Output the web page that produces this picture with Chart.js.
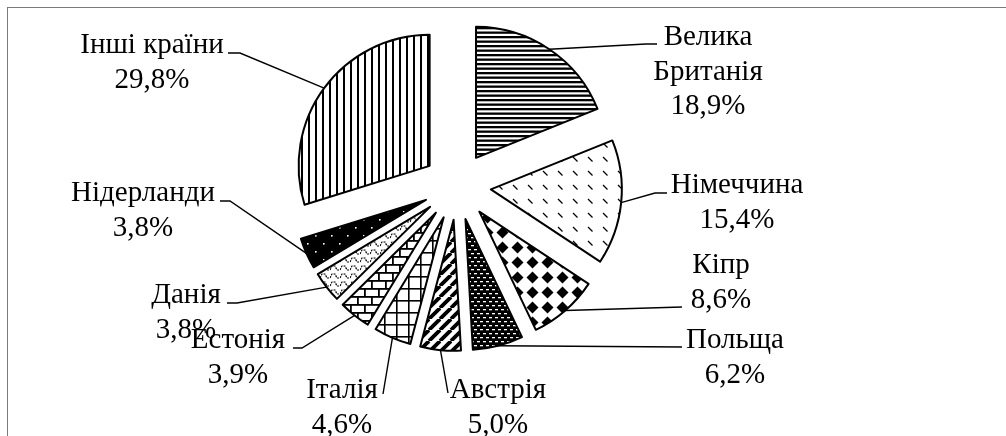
<!DOCTYPE html>
<html><head><meta charset="utf-8">
<script src="https://cdn.jsdelivr.net/npm/chart.js@4.4.1/dist/chart.umd.min.js"></script>
<style>html,body{margin:0;padding:0;background:#fff;overflow:hidden}#wrap{width:1006px;height:436px;position:relative}</style>
</head><body><div id="wrap"><canvas id="c" width="1006" height="436"></canvas></div>
<script>
// ---- data ----
const categories = [['Велика', 'Британія'], 'Німеччина', 'Кіпр', 'Польща', 'Австрія', 'Італія', 'Естонія', 'Данія', 'Нідерланди', 'Інші країни'];
const shares = [18.9, 15.4, 8.6, 6.2, 5.0, 4.6, 3.9, 3.8, 3.8, 29.8];

// ---- layout (positions of label text and leader elbows) ----
const labelAnchors = [[708, 45], [737, 193], [721, 273], [735, 348], [498, 398], [342, 398], [238, 348], [186, 303], [143, 201], [152, 53]];
const leaderPaths = [
  [[646, 44], [657, 44]],
  [[655, 193], [667, 193]],
  [[682, 307]],
  [[682, 347]],
  [[448, 393]],
  [[383, 394]],
  [[302, 348], [293, 348]],
  [[237, 303], [227, 303]],
  [[230, 201], [220, 201]],
  [[240, 53], [228, 53]]
];
const EXPLODE = 34;
const FONT = '29px "Liberation Serif", "Times New Roman", serif';
const LINE_H = 34.5;

const mainCtx = document.getElementById('c').getContext('2d');
function pat(w, h, fn, bg) {
  const c = document.createElement('canvas');
  c.width = w; c.height = h;
  const g = c.getContext('2d');
  g.fillStyle = bg || '#fff'; g.fillRect(0, 0, w, h);
  g.fillStyle = '#000'; g.strokeStyle = '#000';
  fn(g, w, h);
  return mainCtx.createPattern(c, 'repeat');
}
const patterns = [
  pat(1, 9, g => { g.fillRect(0, 0, 1, 2.3); g.fillRect(0, 4.5, 1, 2.3); }),
  pat(15, 14, g => { g.lineWidth = 1.3; g.beginPath(); g.moveTo(3, 3); g.lineTo(7.5, 7.5); g.stroke(); }),
  pat(15, 15, g => { g.beginPath(); g.moveTo(7.5, 1.5); g.lineTo(13.5, 7.5); g.lineTo(7.5, 13.5); g.lineTo(1.5, 7.5); g.closePath(); g.fill(); }),
  pat(6, 8, g => { g.fillStyle = '#fff'; g.fillRect(0, 1, 3, 1.3); g.fillRect(3, 5, 3, 1.3); }, '#000'),
  pat(11, 11, g => { g.lineWidth = 3.8; for (const k of [-11, 0, 11]) { g.beginPath(); g.moveTo(k, 11); g.lineTo(k + 11, 0); g.stroke(); } }),
  pat(12, 12, g => { g.fillRect(0, 0, 12, 1.6); g.fillRect(0, 0, 1.6, 12); }),
  pat(14, 16, g => { g.fillRect(0, 0, 14, 1.8); g.fillRect(0, 8, 14, 1.8); g.fillRect(0, 0, 1.8, 8); g.fillRect(7, 8, 1.8, 8); }),
  pat(10, 8, g => { g.lineWidth = 1.2; g.setLineDash([2, 1]); g.beginPath(); g.moveTo(0, 6); g.lineTo(2, 2); g.lineTo(5, 2); g.lineTo(7, 6); g.lineTo(10, 6); g.stroke(); }),
  pat(16, 16, g => { g.fillStyle = '#fff'; g.fillRect(3, 3, 1.6, 1.6); g.fillRect(11, 11, 1.6, 1.6); }, '#000'),
  pat(7, 1, g => { g.fillRect(0, 0, 2, 1); })
];

const framePlugin = {
  id: 'frame',
  beforeDraw(chart) {
    const c = chart.ctx;
    c.save();
    c.fillStyle = '#fff'; c.fillRect(0, 0, chart.width, chart.height);
    c.strokeStyle = '#7a7a7a'; c.lineWidth = 1;
    c.strokeRect(7.5, 7.5, chart.width + 20, chart.height + 20);
    c.restore();
  }
};
const explodePlugin = {
  id: 'explode',
  afterDatasetUpdate(chart, args) {
    const ca = chart.chartArea;
    const cx = (ca.left + ca.right) / 2, cy = (ca.top + ca.bottom) / 2;
    args.meta.data.forEach(arc => {
      const mid = (arc.startAngle + arc.endAngle) / 2;
      arc.x = cx + Math.cos(mid) * EXPLODE;
      arc.y = cy + Math.sin(mid) * EXPLODE;
    });
  }
};
const labelPlugin = {
  id: 'labels',
  afterDatasetsDraw(chart) {
    const c = chart.ctx;
    const meta = chart.getDatasetMeta(0);
    c.save();
    c.strokeStyle = '#000'; c.lineWidth = 1.4; c.lineJoin = 'miter';
    meta.data.forEach((arc, i) => {
      const mid = (arc.startAngle + arc.endAngle) / 2;
      const sx = arc.x + Math.cos(mid) * arc.outerRadius;
      const sy = arc.y + Math.sin(mid) * arc.outerRadius;
      c.beginPath(); c.moveTo(sx, sy);
      leaderPaths[i].forEach(p => c.lineTo(p[0], p[1]));
      c.stroke();
    });
    c.fillStyle = '#000'; c.font = FONT; c.textAlign = 'center'; c.textBaseline = 'alphabetic';
    const labels = chart.data.labels;
    const vals = chart.data.datasets[0].data;
    labels.forEach((lab, i) => {
      const lines = (Array.isArray(lab) ? lab.slice() : [lab]);
      lines.push(vals[i].toFixed(1).replace('.', ',') + '%');
      const [x, y] = labelAnchors[i];
      lines.forEach((t, k) => c.fillText(t, x, y + k * LINE_H));
    });
    c.restore();
  }
};

new Chart(mainCtx, {
  type: 'pie',
  data: {
    labels: categories,
    datasets: [{
      data: shares,
      backgroundColor: patterns,
      borderColor: '#000',
      borderWidth: 2,
      borderJoinStyle: 'round',
      radius: 131
    }]
  },
  options: {
    responsive: false,
    animation: false,
    events: [],
    layout: { padding: { left: 0, right: 92, top: 0, bottom: 64 } },
    plugins: { legend: { display: false }, tooltip: { enabled: false } }
  },
  plugins: [framePlugin, explodePlugin, labelPlugin]
});
</script></body></html>
